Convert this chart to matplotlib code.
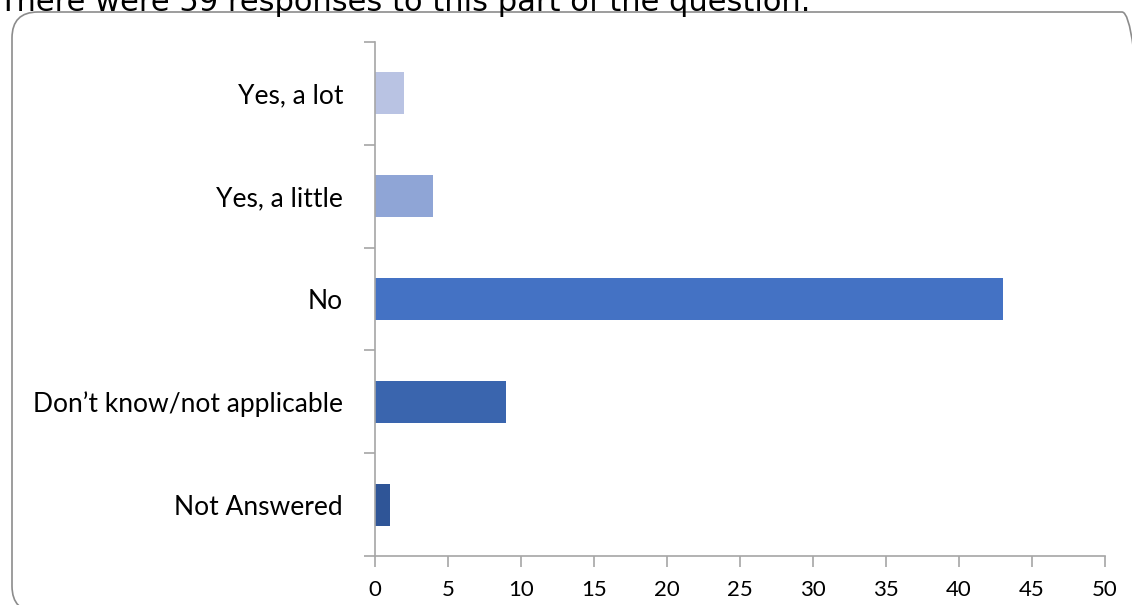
import matplotlib
matplotlib.use("Agg")
import matplotlib.pyplot as plt
from matplotlib.patches import FancyBboxPatch

# survey answers, top to bottom
answers = ["Yes, a lot", "Yes, a little", "No", "Don\u2019t know/not applicable", "Not Answered"]
counts = [2, 4, 43, 9, 1]
bar_colours = ["#B9C3E3", "#8FA5D6", "#4472C4", "#3A65AE", "#2F5597"]
x_ticks = [0, 5, 10, 15, 20, 25, 30, 35, 40, 45, 50]
heading = "There were 59 responses to this part of the question."

W, H = 1132, 605
fig = plt.figure(figsize=(W / 100, H / 100), dpi=100)
fig.patch.set_facecolor("white")

# overlay in pixel units for the rounded frame (runs past right and bottom edge)
bg = fig.add_axes([0, 0, 1, 1])
bg.set_xlim(0, W)
bg.set_ylim(0, H)
bg.axis("off")
frame = FancyBboxPatch((12, -7), 1136, H - 12 + 7,
                       boxstyle="round,pad=0,rounding_size=26",
                       facecolor="none", edgecolor="#8C8C8C", linewidth=1.2)
bg.add_patch(frame)

# heading text, cut off at the top of the picture
fig.text(-0.002, 1 - 11 / H, heading, fontsize=22, va="baseline", ha="left",
         family="DejaVu Sans", color="black")

ax = fig.add_axes([375 / W, 1 - 556 / H, (1105 - 375) / W, (556 - 42) / H])
ax.patch.set_alpha(0)
ypos = list(range(len(answers)))
ax.barh(ypos, counts, height=0.41, color=bar_colours)
ax.set_ylim(len(answers) - 0.5, -0.5)
ax.set_xlim(0, 50)
ax.set_xticks(x_ticks)
ax.set_xticklabels([str(t) for t in x_ticks], family="Lato")

# category labels sit between the tick marks
ax.set_yticks([y - 0.5 for y in range(len(answers) + 1)])
ax.set_yticklabels([])
ax.set_yticks(ypos, minor=True)
ax.set_yticklabels(answers, minor=True, family="Lato")
ax.tick_params(axis="y", which="minor", length=0, pad=23, labelsize=19)
ax.tick_params(axis="y", which="major", length=8, color="#A6A6A6", width=1.2)
ax.tick_params(axis="x", length=8, color="#A6A6A6", width=1.2, labelsize=16, pad=9)

for side in ["top", "right"]:
    ax.spines[side].set_visible(False)
for side in ["left", "bottom"]:
    ax.spines[side].set_color("#A6A6A6")
    ax.spines[side].set_linewidth(1.2)

fig.savefig("out.png", dpi=100)
